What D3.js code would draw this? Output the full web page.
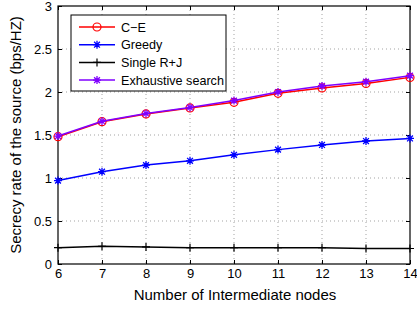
<!DOCTYPE html>
<html><head><meta charset="utf-8">
<script src="https://cdn.jsdelivr.net/npm/d3@7"></script>
<style>
html,body{margin:0;padding:0;background:#fff;}
svg{display:block;font-family:"Liberation Sans",Arial,Helvetica,sans-serif;}
</style></head>
<body><svg id="c" width="417" height="310"></svg>
<script>
const nodes = [6, 7, 8, 9, 10, 11, 12, 13, 14];
const ceValues = [1.48, 1.655, 1.745, 1.815, 1.88, 1.985, 2.047, 2.10, 2.17];
const greedyValues = [0.97, 1.073, 1.15, 1.20, 1.27, 1.33, 1.384, 1.43, 1.46];
const singleValues = [0.19, 0.205, 0.198, 0.19, 0.19, 0.19, 0.19, 0.18, 0.18];
const exhaustiveValues = [1.488, 1.66, 1.75, 1.82, 1.90, 2.0, 2.07, 2.12, 2.19];
const seriesNames = ["C\u2212E", "Greedy", "Single R+J", "Exhaustive search"];
const yTicks = [0, 0.5, 1, 1.5, 2, 2.5, 3];
const xLabel = "Number of Intermediate nodes";
const yLabel = "Secrecy rate of the source (bps/HZ)";

const series = [
  {name: seriesNames[0], values: ceValues, color: "#ff0000", marker: "circle"},
  {name: seriesNames[1], values: greedyValues, color: "#0000ff", marker: "star"},
  {name: seriesNames[2], values: singleValues, color: "#000000", marker: "plus"},
  {name: seriesNames[3], values: exhaustiveValues, color: "#8000ff", marker: "star"}
];

const svg = d3.select("#c");
const L = 58, R = 410, T = 6, B = 264;
const x = d3.scaleLinear().domain([6, 14]).range([L, R]);
const y = d3.scaleLinear().domain([0, 3]).range([B, T]);

// grid
const g = svg.append("g");
g.selectAll(".vg").data(nodes.filter(d => d > 6 && d < 14)).enter().append("line")
  .attr("x1", d => x(d)).attr("x2", d => x(d)).attr("y1", T).attr("y2", B)
  .attr("stroke", "#000").attr("stroke-width", 0.6).attr("stroke-dasharray", "1,3").attr("opacity", 0.6);
g.selectAll(".hg").data(yTicks.filter(d => d > 0 && d < 3)).enter().append("line")
  .attr("x1", L).attr("x2", R).attr("y1", d => y(d)).attr("y2", d => y(d))
  .attr("stroke", "#000").attr("stroke-width", 0.6).attr("stroke-dasharray", "1,3").attr("opacity", 0.6);

// axes
const xAxis = d3.axisBottom(x).tickValues(nodes).tickSize(-4).tickPadding(5).tickFormat(d3.format("d"));
const yAxis = d3.axisLeft(y).tickValues(yTicks).tickSize(-4).tickPadding(6).tickFormat(d => String(d));
const xa = svg.append("g").attr("transform", `translate(0,${B})`).call(xAxis);
const ya = svg.append("g").attr("transform", `translate(${L},0)`).call(yAxis);
const xt = svg.append("g").attr("transform", `translate(0,${T})`).call(d3.axisTop(x).tickValues(nodes).tickSize(-4).tickFormat(""));
const yr = svg.append("g").attr("transform", `translate(${R},0)`).call(d3.axisRight(y).tickValues(yTicks).tickSize(-4).tickFormat(""));
[xa, ya, xt, yr].forEach(a => {
  a.select(".domain").remove();
  a.selectAll("line").attr("stroke", "#000");
  a.selectAll("text").attr("fill", "#000").attr("font-size", 13).attr("font-family", "Liberation Sans, Arial, sans-serif");
});
svg.append("rect").attr("x", L).attr("y", T).attr("width", R - L).attr("height", B - T)
  .attr("fill", "none").attr("stroke", "#000").attr("stroke-width", 1.2);

// markers
function drawMarker(sel, type, color, cx, cy) {
  if (type === "circle") {
    sel.append("circle").attr("cx", cx).attr("cy", cy).attr("r", 4).attr("fill", "none").attr("stroke", color).attr("stroke-width", 1.2);
  } else if (type === "plus") {
    const s = 4;
    sel.append("path").attr("d", `M${cx - s},${cy}H${cx + s}M${cx},${cy - s}V${cy + s}`).attr("stroke", color).attr("stroke-width", 1.2);
  } else {
    const s = 4, d = 2.9;
    sel.append("path").attr("d", `M${cx - s},${cy}H${cx + s}M${cx},${cy - s}V${cy + s}M${cx - d},${cy - d}L${cx + d},${cy + d}M${cx - d},${cy + d}L${cx + d},${cy - d}`)
      .attr("stroke", color).attr("stroke-width", 1.3);
  }
}

const line = d3.line().x((d, i) => x(nodes[i])).y(d => y(d));
series.forEach(s => {
  const sg = svg.append("g");
  sg.append("path").datum(s.values).attr("d", line).attr("fill", "none").attr("stroke", s.color).attr("stroke-width", 1.5);
  s.values.forEach((v, i) => drawMarker(sg, s.marker, s.color, x(nodes[i]), y(v)));
});

// legend
const lg = svg.append("g");
lg.append("rect").attr("x", 71).attr("y", 15).attr("width", 155).attr("height", 76)
  .attr("fill", "#fff").attr("stroke", "#000").attr("stroke-width", 1);
series.forEach((s, i) => {
  const ly = 27 + i * 17.7;
  lg.append("line").attr("x1", 79).attr("x2", 115).attr("y1", ly).attr("y2", ly).attr("stroke", s.color).attr("stroke-width", 1.5);
  drawMarker(lg, s.marker, s.color, 97, ly);
  lg.append("text").attr("x", 121).attr("y", ly + 4.5).attr("font-size", 12.6).attr("fill", "#000").text(s.name);
});

// labels
svg.append("text").attr("x", (L + R) / 2 + 1).attr("y", 300).attr("text-anchor", "middle").attr("font-size", 15).attr("fill", "#000").text(xLabel);
svg.append("text").attr("transform", `translate(21,${(T + B) / 2}) rotate(-90)`).attr("text-anchor", "middle").attr("font-size", 15).attr("fill", "#000").text(yLabel);
</script></body></html>
